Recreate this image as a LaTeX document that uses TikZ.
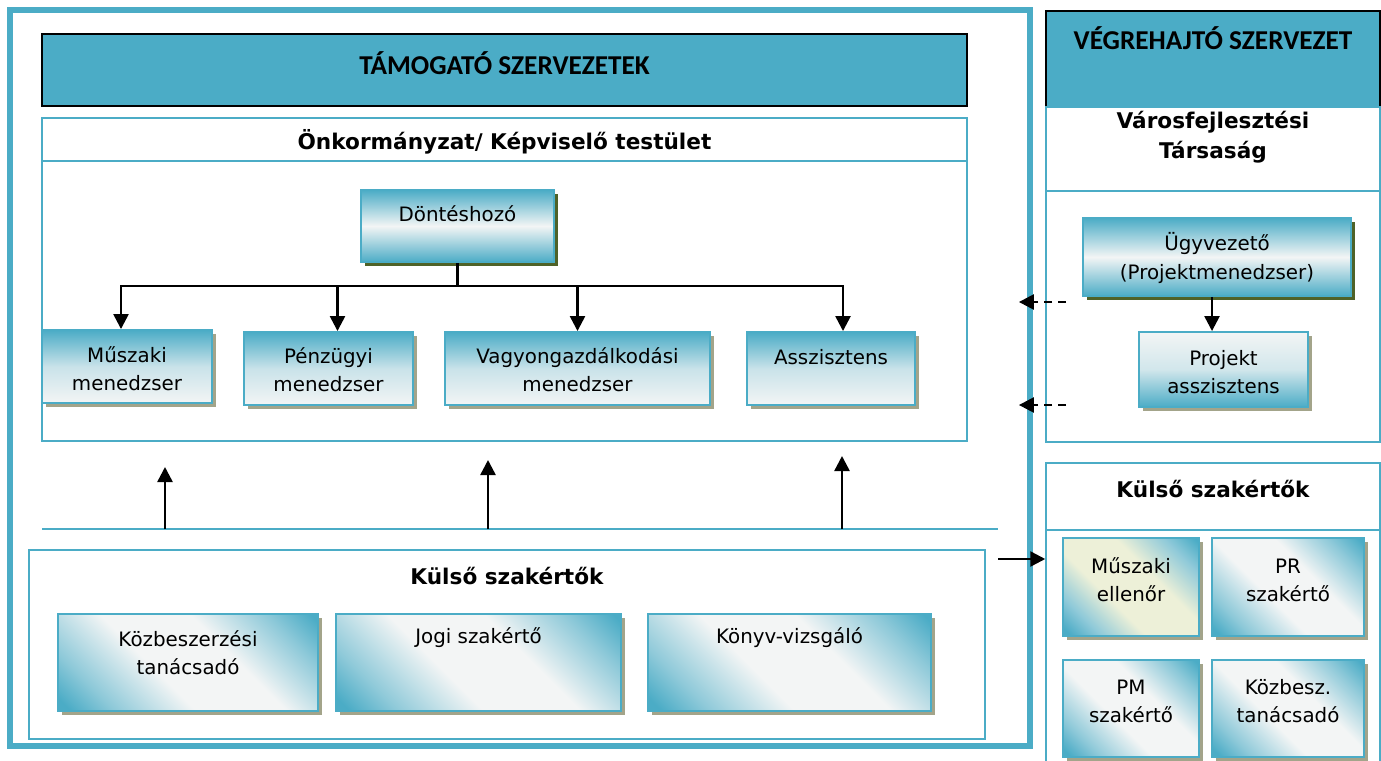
\documentclass[tikz,border=0pt]{standalone}
\usepackage{fontspec}
\setmainfont{DejaVu Sans}
\newfontfamily\calfont{Carlito}
\usetikzlibrary{arrows.meta,shadows,calc}

\definecolor{tealacc}{HTML}{4BACC6}
\definecolor{boxwhite}{HTML}{F3F5F5}
\definecolor{olivedark}{HTML}{4F6228}
\definecolor{olivelight}{HTML}{A3A48A}
\definecolor{paleyellow}{HTML}{EDF0D8}
\colorlet{tealsoft}{tealacc!60!boxwhite}

% diagonal band, corner to corner at 45 degrees
\pgfdeclarehorizontalshading{tealband}{100bp}{color(0bp)=(tealacc); color(17bp)=(tealacc); color(26bp)=(tealsoft); color(42bp)=(boxwhite); color(60bp)=(boxwhite); color(75bp)=(tealsoft); color(84bp)=(tealacc); color(100bp)=(tealacc)}
\pgfdeclarehorizontalshading{yellowband}{100bp}{color(0bp)=(tealacc); color(17bp)=(tealacc); color(26bp)=(tealsoft); color(40bp)=(paleyellow); color(60bp)=(paleyellow); color(75bp)=(tealsoft); color(84bp)=(tealacc); color(100bp)=(tealacc)}

\begin{document}
\begin{tikzpicture}[x=0.02cm, y=-0.02cm, line width=1.4pt,
  >={Triangle[length=0.3cm, width=0.3cm]},
  % frame, headers and panels
  outerframe/.style={draw=tealacc, line width=0.12cm, inner sep=0pt},
  hdrbox/.style={draw=black, fill=tealacc, line width=1.2pt, inner sep=0pt},
  panel/.style={draw=tealacc, line width=0.9pt, inner sep=0pt},
  % person boxes
  fadebox/.style={draw=tealacc, line width=1.1pt, inner sep=0pt, top color=tealacc,
                  bottom color=boxwhite, middle color=tealacc!25!boxwhite,
                  general shadow={fill=olivelight, shadow xshift=0.08cm, shadow yshift=-0.08cm}},
  risebox/.style={draw=tealacc, line width=1.1pt, inner sep=0pt, top color=boxwhite,
                  bottom color=tealacc, middle color=tealacc!20!boxwhite,
                  general shadow={fill=olivelight, shadow xshift=0.08cm, shadow yshift=-0.08cm}},
  glowbox/.style={draw=tealacc, line width=1.1pt, inner sep=0pt, top color=tealacc,
                  bottom color=tealacc, middle color=boxwhite,
                  general shadow={fill=olivedark, shadow xshift=0.08cm, shadow yshift=-0.08cm}},
  bandbox/.style={draw=tealacc, line width=1.1pt, inner sep=0pt, shade, shading=tealband,
                  shading angle=45,
                  general shadow={fill=olivelight, shadow xshift=0.08cm, shadow yshift=-0.08cm}},
  yellowbox/.style={bandbox, shading=yellowband},
  % texts
  boxtext/.style={font=\fontsize{11.3}{16}\selectfont, align=center, inner sep=0pt},
  titletext/.style={font=\bfseries\fontsize{12.3}{17}\selectfont, align=center, inner sep=0pt},
  hdrtext/.style={font=\calfont\bfseries\fontsize{15.5}{18}\selectfont, inner sep=0pt},
  % lines
  tealline/.style={draw=tealacc, line width=0.9pt},
  link/.style={->, line width=1.4pt},
  dasharrow/.style={->, dashed, dash pattern=on 0.16cm off 0.12cm, line width=1.4pt}
]
  \useasboundingbox (0,0) rectangle (1381,760);

  % Outer frame of the supporting side
  \node[outerframe, minimum width=20.4cm, minimum height=14.72cm] (frm) at (520,378) {};

  % Supporting organisations
  \node[hdrbox, minimum width=18.5cm, minimum height=1.44cm] (tam) at (504.5,70) {};
  \node[hdrtext] (tamtxt) at (504.5,63) {TÁMOGATÓ SZERVEZETEK};

  \node[panel, minimum width=18.5cm, minimum height=0.86cm] (onkhd) at (504.5,139.5) {};
  \node[titletext] (onkhdtxt) at (504.5,142) {Önkormányzat/ Képviselő testület};
  \node[panel, minimum width=18.5cm, minimum height=5.6cm] (onk) at (504.5,301) {};

  \node[glowbox, minimum width=3.86cm, minimum height=1.44cm] (dnt) at (457.5,226) {};
  \node[boxtext] (dnttxt) at (457.5,214) {Döntéshozó};

  \node[fadebox, minimum width=3.4cm, minimum height=1.46cm] (msz) at (127,366.5) {};
  \node[boxtext] (msztxt) at (127,369) {Műszaki\\menedzser};
  \node[fadebox, minimum width=3.38cm, minimum height=1.46cm] (pnz) at (328.5,368.5) {};
  \node[boxtext] (pnztxt) at (328.5,370) {Pénzügyi\\menedzser};
  \node[fadebox, minimum width=5.3cm, minimum height=1.46cm] (vag) at (577.5,368.5) {};
  \node[boxtext] (vagtxt) at (577.5,370) {Vagyongazdálkodási\\menedzser};
  \node[fadebox, minimum width=3.36cm, minimum height=1.46cm] (assz) at (831,368.5) {};
  \node[boxtext] (assztxt) at (831,357) {Asszisztens};

  % Decision maker to the four managers
  \coordinate (bus) at (457.5,286);
  \draw (dnt.south) -- (bus);
  \draw[link] (bus) -| ([xshift=-0.12cm]msz.north);
  \draw[link] (bus) -| ([xshift=0.18cm]pnz.north);
  \draw[link] (bus) -| (vag.north);
  \draw[link] (bus) -| ([xshift=0.24cm]assz.north);

  % Separator and upward support arrows
  \coordinate (sepL) at (42,529);
  \coordinate (sepR) at (998,529);
  \draw[tealline] (sepL) -- (sepR);
  \draw[link] (sepL -| 165,0) -- ++(0,-62);
  \draw[link] (sepL -| 488,0) -- ++(0,-69);
  \draw[link] (sepL -| 842,0) -- ++(0,-73);

  % External experts (left)
  \node[panel, minimum width=19.12cm, minimum height=3.78cm] (kul) at (507,644.5) {};
  \node[titletext] (kultxt) at (507,576) {Külső szakértők};
  \node[bandbox, minimum width=5.2cm, minimum height=1.94cm] (kbsz) at (188,662.5) {};
  \node[boxtext] (kbsztxt) at (188,653) {Közbeszerzési\\tanácsadó};
  \node[bandbox, minimum width=5.7cm, minimum height=1.94cm] (jogi) at (478.5,662.5) {};
  \node[boxtext] (jogitxt) at (478.5,638) {Jogi szakértő};
  \node[bandbox, minimum width=5.66cm, minimum height=1.94cm] (konyv) at (789.5,662.5) {};
  \node[boxtext] (konyvtxt) at (789.5,638) {Könyv-vizsgáló};

  % Executing organisation
  \node[hdrbox, minimum width=6.68cm, minimum height=1.92cm] (veg) at (1213,59) {};
  \node[hdrtext] (vegtxt) at (1213,38) {VÉGREHAJTÓ SZERVEZET};
  \node[panel, minimum width=6.68cm, minimum height=1.68cm] (vfhd) at (1213,149) {};
  \node[titletext] (vfhdtxt) at (1213,137) {Városfejlesztési\\Társaság};
  \node[panel, minimum width=6.68cm, minimum height=5.02cm] (vf) at (1213,316.5) {};

  \node[glowbox, minimum width=5.36cm, minimum height=1.56cm] (ugy) at (1217,257) {};
  \node[boxtext] (ugytxt) at (1217,258) {Ügyvezető\\(Projektmenedzser)};
  \node[risebox, minimum width=3.38cm, minimum height=1.5cm] (pasz) at (1223.5,369.5) {};
  \node[boxtext] (pasztxt) at (1223.5,372) {Projekt\\asszisztens};
  \draw[link] ([xshift=-0.1cm]ugy.south) -- ([xshift=-0.1cm]ugy.south |- pasz.north);

  % Dashed links back to the supporting side
  \coordinate (dashA) at (1066,302);
  \coordinate (dashB) at (1066,405);
  \draw[dasharrow] (dashA) -- ([xshift=-0.28cm]frm.east |- dashA);
  \draw[dasharrow] (dashB) -- ([xshift=-0.28cm]frm.east |- dashB);

  % External experts (right)
  \node[panel, minimum width=6.68cm, minimum height=1.34cm] (krhd) at (1213,496.5) {};
  \node[titletext] (krhdtxt) at (1213,489) {Külső szakértők};
  \node[panel, minimum width=6.68cm, minimum height=4.9cm] (kr) at (1213,652.5) {};
  \node[yellowbox, minimum width=2.72cm, minimum height=1.96cm] (mell) at (1131,587) {};
  \node[boxtext] (melltxt) at (1131,580) {Műszaki\\ellenőr};
  \node[bandbox, minimum width=3.04cm, minimum height=1.96cm] (pr) at (1288,587) {};
  \node[boxtext] (prtxt) at (1288,580) {PR\\szakértő};
  \node[bandbox, minimum width=2.72cm, minimum height=1.94cm] (pm) at (1131,708.5) {};
  \node[boxtext] (pmtxt) at (1131,701) {PM\\szakértő};
  \node[bandbox, minimum width=3.04cm, minimum height=1.94cm] (kbt) at (1288,708.5) {};
  \node[boxtext] (kbttxt) at (1288,701) {Közbesz.\\tanácsadó};

  % Link to the external experts of the executing side
  \draw[link] (sepR |- 0,559) -- (kr.west |- 0,559);

\end{tikzpicture}
\end{document}
